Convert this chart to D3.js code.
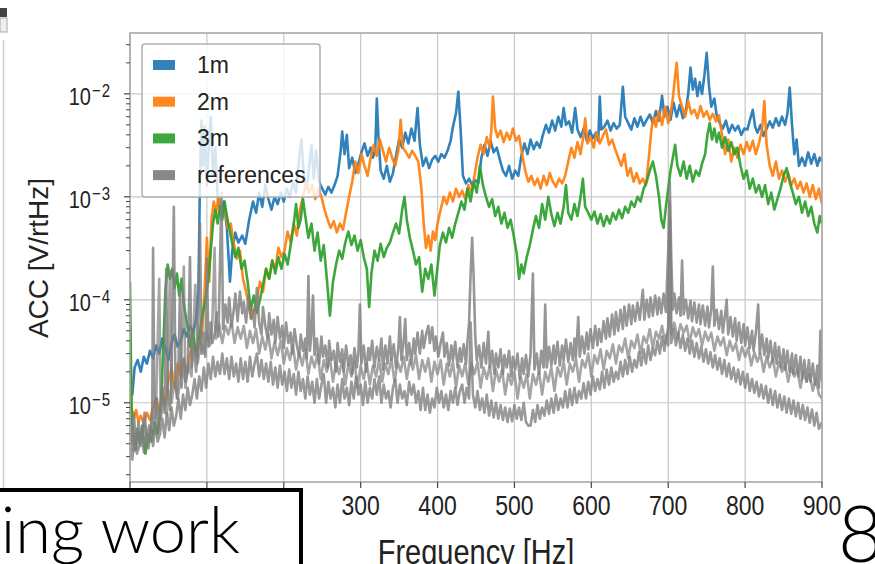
<!DOCTYPE html>
<html>
<head>
<meta charset="utf-8">
<script src="https://cdn.jsdelivr.net/npm/d3@7"></script>
<style>
  body { margin: 0; background: #fff; }
  svg { display: block; font-family: "Liberation Sans", Arial, sans-serif; }
</style>
</head>
<body>
<svg width="875" height="564"></svg>
<script>
var width = 875;
var height = 564;

// series: [frequency Hz, ACC V/rtHz]
var acc1m = [[0,1.4e-5],[3,1.2e-5],[6,2.2e-5],[10,2.6e-5],[14,2.0e-5],[18,2.8e-5],[22,2.4e-5],[26,3.2e-5],[30,2.7e-5],[34,3.6e-5],[38,3.0e-5],[42,4.2e-5],[46,3.4e-5],[50,2.6e-5],[54,3.8e-5],[58,4.6e-5],[62,3.5e-5],[66,4.0e-5],[70,5.2e-5],[74,4.4e-5],[78,5.6e-5],[82,4.8e-5],[86,6.5e-5],[89,1.2e-4],[91,1.5e-3],[93,5.5e-3],[95,2.0e-3],[97,4.8e-3],[100,1.3e-3],[102,2.6e-3],[105,6.0e-3],[108,1.6e-3],[111,3.0e-3],[114,1.0e-3],[118,7.0e-4],[122,9.0e-4],[126,5.0e-4],[130,1.5e-4],[133,3.0e-4],[137,4.5e-4],[141,3.6e-4],[146,4.2e-4],[150,3.5e-4],[155,6.0e-4],[160,9.0e-4],[164,7.0e-4],[168,1.1e-3],[172,8.0e-4],[176,1.3e-3],[180,9.5e-4],[184,7.5e-4],[188,1.0e-3],[192,8.5e-4],[196,1.1e-3],[200,9.0e-4],[204,1.2e-3],[208,1.0e-3],[212,1.4e-3],[216,1.1e-3],[220,2.4e-3],[223,3.6e-3],[226,1.6e-3],[230,1.2e-3],[233,2.0e-3],[236,3.2e-3],[239,1.5e-3],[242,2.8e-3],[246,1.4e-3],[250,1.2e-3],[254,1.05e-3],[258,1.25e-3],[262,1.1e-3],[266,1.3e-3],[270,1.6e-3],[274,2.8e-3],[276,4.3e-3],[279,2.6e-3],[282,4.0e-3],[285,1.9e-3],[289,2.4e-3],[293,1.7e-3],[297,2.1e-3],[301,2.7e-3],[305,3.3e-3],[309,2.5e-3],[313,3.0e-3],[316,2.4e-3],[319,2.9e-3],[321,9.0e-3],[323,4.0e-3],[326,1.8e-3],[330,1.5e-3],[334,2.0e-3],[338,1.4e-3],[342,1.7e-3],[346,2.5e-3],[350,3.6e-3],[354,3.0e-3],[358,4.2e-3],[362,3.3e-3],[366,4.6e-3],[370,3.5e-3],[374,7.3e-3],[377,3.2e-3],[381,2.0e-3],[385,2.4e-3],[389,1.9e-3],[393,2.3e-3],[397,2.5e-3],[401,2.2e-3],[405,2.6e-3],[409,2.4e-3],[413,2.8e-3],[417,3.5e-3],[420,4.8e-3],[424,6.5e-3],[427,1.05e-2],[430,4.5e-3],[433,1.6e-3],[437,1.35e-3],[441,1.5e-3],[445,1.3e-3],[449,1.45e-3],[453,1.35e-3],[457,2.4e-3],[461,3.2e-3],[465,2.5e-3],[469,3.5e-3],[473,2.7e-3],[477,3.0e-3],[481,2.3e-3],[485,1.8e-3],[489,1.6e-3],[493,2.0e-3],[497,1.5e-3],[501,1.8e-3],[505,1.6e-3],[509,2.5e-3],[513,3.3e-3],[517,2.6e-3],[521,3.6e-3],[525,2.9e-3],[529,3.4e-3],[533,3.0e-3],[537,4.0e-3],[541,5.0e-3],[545,4.2e-3],[549,5.5e-3],[553,4.4e-3],[557,6.0e-3],[561,4.8e-3],[564,7.3e-3],[567,5.0e-3],[571,5.4e-3],[575,4.2e-3],[579,7.3e-3],[582,4.5e-3],[586,3.8e-3],[590,4.6e-3],[594,3.5e-3],[598,4.4e-3],[602,3.7e-3],[606,4.2e-3],[609,3.5e-3],[611,9.4e-3],[613,4.5e-3],[617,4.8e-3],[621,5.5e-3],[625,4.4e-3],[629,5.2e-3],[633,4.6e-3],[637,5.0e-3],[641,1.17e-2],[644,6.0e-3],[648,5.2e-3],[652,4.5e-3],[656,5.8e-3],[660,4.8e-3],[664,6.0e-3],[668,4.9e-3],[672,5.6e-3],[676,6.3e-3],[680,5.2e-3],[684,6.8e-3],[688,5.5e-3],[692,9.6e-3],[695,6.0e-3],[699,7.5e-3],[703,5.6e-3],[707,8.2e-3],[711,6.0e-3],[715,7.8e-3],[719,5.8e-3],[723,7.0e-3],[726,1.0e-2],[729,1.8e-2],[732,1.1e-2],[735,1.4e-2],[738,9.5e-3],[741,1.3e-2],[744,1.0e-2],[747,1.5e-2],[750,2.5e-2],[753,1.2e-2],[756,7.5e-3],[760,9.0e-3],[763,6.2e-3],[767,5.2e-3],[771,4.6e-3],[775,5.5e-3],[779,4.2e-3],[783,5.0e-3],[787,4.4e-3],[791,4.9e-3],[795,4.0e-3],[799,4.6e-3],[803,4.5e-3],[806,5.5e-3],[810,7.0e-3],[813,4.8e-3],[816,4.2e-3],[820,5.0e-3],[824,3.9e-3],[828,4.6e-3],[832,5.4e-3],[836,4.7e-3],[840,5.8e-3],[844,4.9e-3],[848,6.0e-3],[852,5.0e-3],[855,6.4e-3],[858,1.15e-2],[861,5.0e-3],[864,2.6e-3],[867,3.6e-3],[870,2.0e-3],[874,2.4e-3],[878,2.0e-3],[882,2.7e-3],[886,2.1e-3],[890,2.6e-3],[894,2.0e-3],[897,2.4e-3],[900,2.2e-3]];

var acc2m = [[0,5.5e-5],[2,9e-6],[5,7e-6],[8,8.5e-6],[11,6.5e-6],[14,7.5e-6],[18,6.2e-6],[22,8e-6],[26,6.8e-6],[30,9e-6],[34,1.1e-5],[38,8e-6],[42,1.3e-5],[46,9.5e-6],[50,1.6e-5],[54,2.2e-5],[58,1.4e-5],[62,2.4e-5],[66,1.8e-5],[70,2.6e-5],[74,2.0e-5],[78,3.0e-5],[82,3.8e-5],[86,3.2e-5],[90,3.6e-5],[94,5e-5],[97,1.2e-4],[100,4.0e-4],[103,1.5e-4],[106,6.0e-4],[109,9.0e-4],[112,7.0e-4],[115,1.0e-3],[118,8.0e-4],[121,6.5e-4],[124,7.5e-4],[127,5.0e-4],[131,5.5e-4],[135,3.5e-4],[139,2.5e-4],[143,3.0e-4],[147,1.6e-4],[151,1.2e-4],[155,8.5e-5],[158,6.5e-5],[161,8e-5],[165,1.0e-4],[169,1.5e-4],[173,1.2e-4],[177,2.0e-4],[181,1.6e-4],[185,2.4e-4],[189,2.0e-4],[193,3.2e-4],[197,2.6e-4],[201,3.0e-4],[205,4.6e-4],[209,3.6e-4],[213,5.5e-4],[217,4.2e-4],[221,7.5e-4],[225,1.0e-3],[229,1.4e-3],[233,1.1e-3],[237,1.3e-3],[241,9.5e-4],[245,1.2e-3],[249,1.0e-3],[253,7.5e-4],[257,6.0e-4],[261,5.0e-4],[265,5.8e-4],[269,4.5e-4],[273,5.5e-4],[277,4.8e-4],[281,7.0e-4],[285,1.0e-3],[289,1.4e-3],[293,2.2e-3],[297,1.7e-3],[301,2.6e-3],[305,2.0e-3],[309,1.6e-3],[313,2.4e-3],[317,3.2e-3],[321,2.5e-3],[325,3.6e-3],[329,2.8e-3],[333,2.2e-3],[337,3.0e-3],[341,2.4e-3],[345,2.0e-3],[349,2.8e-3],[352,5.6e-3],[355,3.0e-3],[359,2.7e-3],[363,2.4e-3],[367,2.8e-3],[371,2.5e-3],[375,2.2e-3],[379,1.2e-3],[382,5.5e-4],[385,3.2e-4],[388,4.2e-4],[391,3.0e-4],[394,4.6e-4],[397,3.8e-4],[400,5.5e-4],[404,7.5e-4],[408,1.0e-3],[412,8.5e-4],[416,1.1e-3],[420,9.0e-4],[424,1.2e-3],[428,1.0e-3],[432,1.15e-3],[436,9.5e-4],[440,1.3e-3],[444,1.1e-3],[448,1.6e-3],[452,2.4e-3],[456,3.2e-3],[460,2.6e-3],[464,3.8e-3],[468,3.0e-3],[470,4.5e-3],[472,9.4e-3],[475,4.6e-3],[478,3.8e-3],[482,4.4e-3],[486,3.4e-3],[490,4.2e-3],[494,3.6e-3],[498,4.6e-3],[502,3.5e-3],[506,3.9e-3],[510,2.6e-3],[514,1.8e-3],[518,1.4e-3],[522,1.6e-3],[526,1.3e-3],[530,1.5e-3],[534,1.2e-3],[538,1.6e-3],[542,1.3e-3],[546,1.7e-3],[550,1.4e-3],[554,1.25e-3],[558,1.5e-3],[562,1.35e-3],[566,1.6e-3],[570,2.2e-3],[574,3.0e-3],[578,2.4e-3],[582,3.4e-3],[586,2.6e-3],[589,3.6e-3],[592,5.8e-3],[595,3.3e-3],[599,3.8e-3],[603,3.0e-3],[607,4.2e-3],[611,3.3e-3],[615,3.9e-3],[619,4.5e-3],[623,3.2e-3],[627,3.6e-3],[631,2.9e-3],[635,2.4e-3],[639,2.0e-3],[643,2.6e-3],[647,1.6e-3],[651,1.9e-3],[655,1.4e-3],[659,1.7e-3],[663,1.35e-3],[667,1.5e-3],[671,1.3e-3],[675,2.5e-3],[678,4.4e-3],[681,6.0e-3],[684,4.8e-3],[688,6.8e-3],[692,5.0e-3],[696,7.5e-3],[700,5.2e-3],[703,6.5e-3],[706,9.0e-3],[709,1.5e-2],[711,2.0e-2],[714,9.5e-3],[718,7.5e-3],[722,6.0e-3],[726,8.5e-3],[730,6.4e-3],[734,7.0e-3],[738,5.8e-3],[742,7.6e-3],[746,6.0e-3],[750,6.8e-3],[754,5.6e-3],[758,6.4e-3],[762,5.4e-3],[766,6.2e-3],[770,4.0e-3],[774,2.6e-3],[778,3.6e-3],[782,2.2e-3],[786,3.0e-3],[790,2.4e-3],[794,3.2e-3],[798,2.6e-3],[802,3.4e-3],[806,2.8e-3],[810,3.5e-3],[814,2.6e-3],[818,3.3e-3],[822,4.5e-3],[825,8.5e-3],[828,3.2e-3],[832,2.0e-3],[836,1.6e-3],[840,2.2e-3],[844,1.5e-3],[848,1.8e-3],[852,1.4e-3],[856,1.7e-3],[860,1.3e-3],[864,1.5e-3],[868,1.2e-3],[872,1.4e-3],[876,1.1e-3],[880,1.35e-3],[884,1.0e-3],[888,1.3e-3],[892,9.5e-4],[896,1.2e-3],[900,8.5e-4]];

var acc3m = [[0,1.5e-4],[2,8e-6],[4,5e-6],[7,3.5e-6],[10,5.5e-6],[13,4e-6],[16,6e-6],[20,3.2e-6],[24,5e-6],[28,4.2e-6],[32,6.5e-6],[36,5e-6],[40,9e-6],[43,3e-5],[46,1.2e-4],[49,2.2e-4],[52,1.6e-4],[55,2.0e-4],[58,1.3e-4],[61,1.8e-4],[64,1.1e-4],[67,1.6e-4],[70,9e-5],[74,6e-5],[78,3.5e-5],[82,5e-5],[86,2.8e-5],[90,4.5e-5],[94,7e-5],[98,1.0e-4],[102,1.6e-4],[105,3.0e-4],[108,5.5e-4],[111,7.5e-4],[114,5.5e-4],[117,8.0e-4],[120,6.0e-4],[123,9.0e-4],[126,6.5e-4],[129,5.0e-4],[133,3.5e-4],[137,2.6e-4],[141,3.2e-4],[145,2.0e-4],[149,2.4e-4],[153,1.5e-4],[157,8e-5],[161,1.1e-4],[165,7.5e-5],[169,1.0e-4],[173,1.4e-4],[177,2.0e-4],[181,1.6e-4],[185,2.4e-4],[189,1.8e-4],[193,2.6e-4],[197,2.0e-4],[201,2.8e-4],[205,2.2e-4],[209,3.4e-4],[213,5.5e-4],[216,8.5e-4],[219,5.0e-4],[222,6.0e-4],[225,9.5e-4],[228,6.5e-4],[232,4.0e-4],[236,5.5e-4],[240,3.0e-4],[244,4.5e-4],[248,2.4e-4],[252,3.4e-4],[256,1.6e-4],[260,7.0e-5],[264,1.5e-4],[268,2.2e-4],[272,3.0e-4],[276,2.5e-4],[280,3.6e-4],[284,4.6e-4],[288,3.4e-4],[292,4.2e-4],[296,3.0e-4],[300,3.8e-4],[304,2.6e-4],[308,2.0e-4],[311,8.5e-5],[314,1.8e-4],[318,3.0e-4],[322,2.4e-4],[326,3.5e-4],[330,2.6e-4],[334,3.2e-4],[338,3.6e-4],[342,4.5e-4],[346,5.5e-4],[350,4.4e-4],[354,7.5e-4],[357,1.0e-3],[360,6.0e-4],[364,4.0e-4],[368,3.0e-4],[372,2.2e-4],[376,2.6e-4],[380,1.2e-4],[384,2.0e-4],[388,1.6e-4],[392,2.2e-4],[396,1.1e-4],[399,1.8e-4],[403,3.4e-4],[407,4.5e-4],[411,3.6e-4],[415,5.0e-4],[419,4.0e-4],[423,5.5e-4],[427,7.0e-4],[431,9.0e-4],[435,7.5e-4],[439,1.2e-3],[443,9.0e-4],[447,1.4e-3],[451,1.1e-3],[455,2.0e-3],[459,1.3e-3],[463,1.0e-3],[467,8.0e-4],[471,9.5e-4],[475,6.5e-4],[479,8.0e-4],[483,5.5e-4],[487,7.0e-4],[491,5.0e-4],[495,6.0e-4],[499,4.2e-4],[503,2.8e-4],[506,1.6e-4],[509,2.2e-4],[512,1.8e-4],[516,2.6e-4],[520,3.4e-4],[524,4.8e-4],[528,6.5e-4],[532,5.0e-4],[536,8.5e-4],[540,6.0e-4],[544,1.0e-3],[548,6.8e-4],[552,5.2e-4],[556,7.0e-4],[560,5.5e-4],[564,8.0e-4],[567,1.3e-3],[570,7.0e-4],[574,6.0e-4],[578,8.5e-4],[582,6.5e-4],[586,1.0e-3],[589,1.5e-3],[592,8.0e-4],[596,7.0e-4],[600,6.0e-4],[604,7.2e-4],[608,5.5e-4],[612,6.8e-4],[616,5.2e-4],[620,6.5e-4],[624,5.5e-4],[628,7.0e-4],[632,6.0e-4],[636,7.5e-4],[640,6.2e-4],[644,8.0e-4],[648,7.0e-4],[652,9.0e-4],[656,8.0e-4],[660,1.0e-3],[664,9.0e-4],[668,1.2e-3],[672,1.4e-3],[676,1.8e-3],[680,2.2e-3],[684,1.6e-3],[688,1.0e-3],[691,6.0e-4],[694,5.0e-4],[697,8.0e-4],[700,1.2e-3],[703,1.8e-3],[706,2.4e-3],[709,3.2e-3],[712,2.0e-3],[716,1.6e-3],[720,2.2e-3],[724,1.5e-3],[728,2.0e-3],[732,1.4e-3],[736,1.8e-3],[740,1.6e-3],[744,2.1e-3],[748,2.6e-3],[751,4.0e-3],[754,5.2e-3],[757,3.6e-3],[760,4.6e-3],[763,3.4e-3],[766,4.2e-3],[770,3.0e-3],[774,3.8e-3],[778,2.8e-3],[782,3.4e-3],[786,2.6e-3],[790,3.0e-3],[794,2.0e-3],[798,1.5e-3],[802,1.8e-3],[806,1.2e-3],[810,1.5e-3],[814,1.1e-3],[818,1.3e-3],[822,1.0e-3],[826,1.3e-3],[830,8.5e-4],[834,1.1e-3],[838,7.5e-4],[842,9.5e-4],[846,1.2e-3],[850,1.6e-3],[854,1.9e-3],[858,1.4e-3],[862,1.1e-3],[866,8.5e-4],[870,1.0e-3],[874,7.0e-4],[878,9.0e-4],[882,6.5e-4],[886,8.0e-4],[890,5.5e-4],[894,4.5e-4],[897,6.5e-4],[900,5.5e-4]];

var refA = [[0,7e-6],[3,4e-6],[5,8e-6],[8,3.5e-6],[11,6.5e-6],[14,4.5e-6],[16,5e-6],[19,8e-6],[22,4.2e-6],[25,6e-6],[27,4.8e-6],[29,9e-6],[30,3.2e-4],[32,7e-6],[35,1.1e-5],[37,5.5e-6],[40,9e-6],[43,1.4e-5],[45,8e-6],[47,2.0e-4],[49,1.4e-5],[52,8.5e-6],[54,1.7e-5],[57,8.0e-4],[59,1.8e-5],[61,1.1e-5],[63,2.2e-5],[65,1.2e-4],[67,1.4e-5],[70,2.7e-5],[72,1.6e-5],[75,2.0e-5],[78,2.6e-4],[80,2.2e-5],[83,3.6e-5],[86,2.0e-5],[88,3.0e-5],[91,5.5e-4],[93,3.0e-5],[95,4.8e-5],[98,2.8e-5],[100,2.5e-4],[102,3.5e-5],[105,6.0e-5],[107,3.8e-5],[110,4.6e-5],[113,7.5e-5],[115,4.4e-5],[119,1.1e-3],[121,5.2e-5],[124,9.0e-5],[127,6.0e-5],[129,1.05e-4],[132,5.5e-5],[135,8.0e-5],[137,1.15e-4],[140,6.2e-5],[143,1.2e-4],[146,7.4e-5],[148,9.5e-5],[151,6.0e-5],[154,1.1e-4],[157,6.6e-5],[160,8.0e-5],[162,5.4e-5],[165,1.3e-4],[168,6.0e-5],[171,4.6e-5],[173,8.5e-5],[176,5.6e-5],[179,4.2e-5],[181,7.4e-5],[184,4.6e-5],[187,6.4e-5],[189,3.8e-5],[192,6.8e-5],[195,4.2e-5],[198,5.6e-5],[200,3.4e-5],[203,6.0e-5],[206,3.8e-5],[209,4.8e-5],[211,3.0e-5],[214,5.2e-5],[217,3.6e-5],[220,2.8e-5],[222,4.6e-5],[225,3.2e-5],[228,4.2e-5],[230,2.7e-5],[232,1.7e-4],[234,3.2e-5],[236,4.8e-5],[238,1.1e-4],[240,2.9e-5],[243,4.2e-5],[246,2.4e-5],[249,4.4e-5],[251,2.8e-5],[254,3.6e-5],[257,2.2e-5],[259,4.0e-5],[262,2.6e-5],[265,3.2e-5],[268,2.0e-5],[270,3.8e-5],[273,2.5e-5],[276,3.3e-5],[278,2.0e-5],[281,3.6e-5],[284,2.3e-5],[287,2.9e-5],[289,1.9e-5],[292,3.4e-5],[295,2.2e-5],[297,3.0e-5],[299,9.0e-5],[301,2.4e-5],[304,3.6e-5],[307,2.0e-5],[310,3.4e-5],[312,2.6e-5],[315,4.0e-5],[318,2.2e-5],[321,3.5e-5],[324,2.6e-5],[327,4.2e-5],[329,2.1e-5],[332,3.6e-5],[335,2.4e-5],[338,4.4e-5],[340,2.6e-5],[343,3.7e-5],[346,2.2e-5],[349,3.4e-5],[351,6.8e-5],[353,2.6e-5],[356,4.0e-5],[358,6.5e-5],[360,2.6e-5],[363,3.8e-5],[366,2.4e-5],[369,4.2e-5],[371,3.0e-5],[374,4.8e-5],[377,3.0e-5],[380,5.0e-5],[382,3.4e-5],[385,4.6e-5],[388,5.6e-5],[390,3.8e-5],[393,5.4e-5],[396,3.2e-5],[398,4.4e-5],[401,2.8e-5],[404,3.8e-5],[407,4.8e-5],[409,2.8e-5],[412,3.8e-5],[415,2.3e-5],[418,3.6e-5],[420,2.6e-5],[423,3.9e-5],[426,2.2e-5],[429,3.4e-5],[431,2.5e-5],[434,3.7e-5],[437,2.4e-5],[439,4.0e-5],[441,6.0e-5],[443,1.8e-4],[445,4.0e-4],[447,1.6e-4],[449,4.5e-5],[451,2.6e-5],[454,3.6e-5],[457,2.2e-5],[460,3.8e-5],[463,2.4e-5],[466,4.9e-5],[468,2.2e-5],[471,3.2e-5],[474,1.9e-5],[476,3.0e-5],[479,2.2e-5],[482,3.3e-5],[485,1.9e-5],[487,2.9e-5],[490,2.2e-5],[493,3.2e-5],[496,1.8e-5],[498,2.8e-5],[501,2.1e-5],[504,3.0e-5],[507,1.7e-5],[510,2.7e-5],[512,1.9e-5],[515,2.9e-5],[518,1.8e-5],[521,3.0e-5],[524,1.8e-4],[526,2.1e-5],[529,3.0e-5],[532,1.9e-5],[535,3.2e-5],[538,2.2e-5],[540,9.0e-5],[542,2.2e-5],[545,3.5e-5],[548,2.3e-5],[551,3.6e-5],[553,2.4e-5],[556,3.9e-5],[559,2.3e-5],[562,3.6e-5],[564,2.6e-5],[567,4.1e-5],[570,2.5e-5],[573,3.8e-5],[576,2.6e-5],[578,4.2e-5],[580,2.8e-5],[583,6.8e-5],[585,2.8e-5],[588,4.4e-5],[591,3.0e-5],[594,4.8e-5],[596,3.3e-5],[599,5.2e-5],[602,3.4e-5],[605,5.6e-5],[608,3.6e-5],[610,5.2e-5],[613,3.9e-5],[616,6.2e-5],[619,4.2e-5],[621,6.6e-5],[624,4.4e-5],[627,7.2e-5],[630,4.6e-5],[632,7.6e-5],[635,5.0e-5],[638,8.0e-5],[641,5.2e-5],[643,8.6e-5],[646,5.6e-5],[649,9.0e-5],[652,5.8e-5],[654,8.8e-5],[657,6.2e-5],[660,9.4e-5],[663,6.4e-5],[665,9.0e-5],[667,1.25e-4],[669,6.4e-5],[672,1.0e-4],[675,6.8e-5],[677,1.05e-4],[680,7.0e-5],[683,1.1e-4],[686,7.2e-5],[688,1.05e-4],[691,7.4e-5],[694,1.15e-4],[697,7.6e-5],[700,3.0e-4],[702,1.4e-3],[704,2.5e-4],[706,8.0e-5],[708,1.15e-4],[711,7.4e-5],[714,1.05e-4],[716,7.0e-5],[718,2.4e-4],[720,7.2e-5],[723,1.0e-4],[726,6.6e-5],[729,9.8e-5],[731,6.2e-5],[734,9.4e-5],[737,6.0e-5],[740,9.0e-5],[742,5.8e-5],[745,8.8e-5],[748,5.6e-5],[751,8.6e-5],[753,5.4e-5],[756,8.2e-5],[758,2.1e-4],[760,5.6e-5],[763,8.0e-5],[766,5.2e-5],[769,7.8e-5],[771,4.8e-5],[774,7.2e-5],[776,1.0e-4],[778,4.6e-5],[781,6.8e-5],[784,4.4e-5],[787,6.6e-5],[789,4.0e-5],[792,6.0e-5],[795,3.8e-5],[798,5.8e-5],[800,3.6e-5],[803,5.4e-5],[806,3.4e-5],[809,5.0e-5],[811,3.2e-5],[814,4.8e-5],[817,9.0e-5],[819,3.0e-5],[822,4.6e-5],[825,2.9e-5],[828,4.2e-5],[830,2.7e-5],[833,4.0e-5],[836,2.5e-5],[839,3.8e-5],[841,2.4e-5],[844,3.5e-5],[847,2.2e-5],[850,3.3e-5],[852,2.1e-5],[855,3.2e-5],[858,2.0e-5],[861,3.0e-5],[863,1.9e-5],[866,2.9e-5],[869,1.8e-5],[872,2.8e-5],[874,1.7e-5],[877,2.6e-5],[880,1.6e-5],[883,2.6e-5],[885,1.6e-5],[888,2.4e-5],[891,1.5e-5],[894,2.3e-5],[896,1.4e-5],[898,5.0e-5],[900,1.6e-5]];

var refB = [[0,4e-6],[3,2.8e-6],[6,4.6e-6],[9,3.2e-6],[12,3.8e-6],[15,5.2e-6],[18,3.3e-6],[21,4.8e-6],[24,3.6e-6],[27,5.6e-6],[30,3.8e-6],[33,6.2e-6],[36,4.2e-6],[39,5.0e-6],[42,7.0e-6],[45,4.6e-6],[48,8.0e-6],[51,5.4e-6],[54,9.0e-6],[57,6.0e-6],[60,7.4e-6],[63,1.1e-5],[66,7.0e-6],[69,1.2e-5],[72,8.5e-6],[75,1.4e-5],[78,9.5e-6],[81,1.2e-5],[84,1.7e-5],[87,1.1e-5],[90,1.8e-5],[93,1.3e-5],[96,2.2e-5],[99,1.4e-5],[102,2.4e-5],[105,1.7e-5],[108,2.8e-5],[111,1.8e-5],[114,2.5e-5],[117,1.9e-5],[120,3.0e-5],[123,1.9e-5],[126,2.7e-5],[129,1.7e-5],[132,2.8e-5],[135,1.8e-5],[138,2.4e-5],[141,1.6e-5],[144,2.7e-5],[147,1.7e-5],[150,2.5e-5],[153,1.6e-5],[156,2.8e-5],[159,1.8e-5],[162,2.4e-5],[165,3.0e-5],[168,1.8e-5],[171,2.6e-5],[174,1.7e-5],[177,2.4e-5],[180,1.6e-5],[183,2.5e-5],[186,1.5e-5],[189,2.2e-5],[192,1.4e-5],[195,2.3e-5],[198,1.5e-5],[201,2.0e-5],[204,1.3e-5],[207,2.1e-5],[210,1.4e-5],[213,1.9e-5],[216,1.2e-5],[219,2.0e-5],[222,1.3e-5],[225,1.7e-5],[228,1.1e-5],[231,1.8e-5],[234,1.2e-5],[237,1.6e-5],[240,1.0e-5],[243,1.7e-5],[246,1.1e-5],[249,1.5e-5],[252,1.9e-5],[255,1.0e-5],[258,1.6e-5],[261,1.1e-5],[264,1.4e-5],[267,9.0e-6],[270,1.5e-5],[273,1.0e-5],[276,1.7e-5],[279,1.1e-5],[282,1.4e-5],[285,9.5e-6],[288,1.6e-5],[291,1.1e-5],[294,1.8e-5],[297,1.2e-5],[300,1.5e-5],[303,9.5e-6],[306,1.6e-5],[309,1.0e-5],[312,1.4e-5],[315,1.1e-5],[318,1.7e-5],[321,1.2e-5],[324,1.8e-5],[327,1.0e-5],[330,1.5e-5],[333,1.1e-5],[336,1.3e-5],[339,9.0e-6],[342,1.4e-5],[345,1.7e-5],[348,1.0e-5],[351,1.5e-5],[354,1.1e-5],[357,1.3e-5],[360,9.5e-6],[363,1.6e-5],[366,1.2e-5],[369,1.5e-5],[372,1.0e-5],[375,1.3e-5],[378,8.5e-6],[381,1.4e-5],[384,8.5e-6],[387,1.2e-5],[390,8.0e-6],[393,1.1e-5],[396,9.0e-6],[399,1.4e-5],[402,1.0e-5],[405,1.3e-5],[408,9.0e-6],[411,1.2e-5],[414,8.5e-6],[417,1.3e-5],[420,1.0e-5],[423,1.4e-5],[426,9.5e-6],[429,1.3e-5],[432,1.5e-5],[435,1.0e-5],[438,1.4e-5],[441,1.1e-5],[443,6.0e-5],[446,1.2e-5],[449,9.0e-6],[452,1.3e-5],[455,8.5e-6],[458,1.1e-5],[461,8.0e-6],[464,1.2e-5],[467,7.5e-6],[470,1.05e-5],[473,7.2e-6],[476,1.0e-5],[479,7.0e-6],[482,9.5e-6],[485,6.8e-6],[488,9.0e-6],[491,6.5e-6],[494,8.8e-6],[497,6.6e-6],[500,9.5e-6],[503,7.0e-6],[506,9.0e-6],[509,6.8e-6],[512,1.0e-5],[515,6.5e-6],[518,6.0e-6],[521,6.0e-6],[524,8.5e-6],[527,6.5e-6],[530,9.5e-6],[533,7.0e-6],[536,9.0e-6],[539,7.5e-6],[542,1.05e-5],[545,7.8e-6],[548,1.1e-5],[551,8.0e-6],[554,1.2e-5],[557,8.5e-6],[560,1.1e-5],[563,9.0e-6],[566,1.3e-5],[569,9.0e-6],[572,1.35e-5],[575,9.5e-6],[578,1.4e-5],[581,1.0e-5],[584,1.3e-5],[587,1.1e-5],[590,1.55e-5],[593,1.1e-5],[596,1.6e-5],[599,1.2e-5],[602,1.8e-5],[605,1.3e-5],[608,1.7e-5],[611,1.35e-5],[614,2.0e-5],[617,1.4e-5],[620,2.1e-5],[623,1.5e-5],[626,2.2e-5],[629,1.6e-5],[632,2.0e-5],[635,1.7e-5],[638,2.5e-5],[641,1.8e-5],[644,2.6e-5],[647,1.9e-5],[650,2.8e-5],[653,2.0e-5],[656,2.6e-5],[659,2.2e-5],[662,3.1e-5],[665,2.3e-5],[668,3.3e-5],[671,2.4e-5],[674,3.6e-5],[677,2.6e-5],[680,3.4e-5],[683,2.9e-5],[686,4.0e-5],[689,3.0e-5],[692,4.4e-5],[695,3.2e-5],[698,4.6e-5],[700,3.6e-5],[702,6.0e-4],[704,3.8e-5],[707,5.2e-5],[710,3.6e-5],[713,4.8e-5],[716,3.4e-5],[719,4.6e-5],[722,3.2e-5],[725,4.2e-5],[728,3.0e-5],[731,4.0e-5],[734,2.8e-5],[737,3.8e-5],[740,2.7e-5],[743,3.5e-5],[746,2.5e-5],[749,3.3e-5],[752,2.4e-5],[755,3.1e-5],[758,2.2e-5],[761,2.9e-5],[764,2.1e-5],[767,2.7e-5],[770,1.9e-5],[773,2.6e-5],[776,1.8e-5],[779,2.4e-5],[782,1.7e-5],[785,2.2e-5],[788,1.6e-5],[791,2.1e-5],[794,1.5e-5],[797,2.0e-5],[800,1.4e-5],[803,1.9e-5],[806,1.3e-5],[809,1.7e-5],[812,1.25e-5],[815,1.6e-5],[818,1.15e-5],[821,1.5e-5],[824,1.1e-5],[827,1.45e-5],[830,1.0e-5],[833,1.35e-5],[836,9.5e-6],[839,1.3e-5],[842,9.0e-6],[845,1.2e-5],[848,8.5e-6],[851,1.15e-5],[854,8.0e-6],[857,1.1e-5],[860,7.8e-6],[863,1.05e-5],[866,7.4e-6],[869,1.0e-5],[872,7.0e-6],[875,9.5e-6],[878,6.8e-6],[881,9.0e-6],[884,6.4e-6],[887,8.6e-6],[890,6.0e-6],[893,8.0e-6],[896,5.6e-6],[900,6.5e-6]];

var refC = [[0,5e-6],[5,3.4e-6],[9,5.6e-6],[14,3.8e-6],[19,6e-6],[24,4e-6],[29,7.5e-6],[33,5e-6],[38,1.6e-4],[40,7e-6],[44,1.1e-5],[48,7.5e-6],[52,1.9e-4],[54,1.0e-5],[58,1.6e-5],[62,1.1e-5],[66,1.8e-5],[70,2.1e-4],[72,1.4e-5],[76,2.4e-5],[80,1.8e-5],[85,1.4e-4],[88,2.4e-5],[92,3.8e-5],[96,3.0e-5],[100,4.8e-5],[104,3.6e-5],[107,5.8e-5],[110,3.2e-4],[112,4.2e-5],[116,5.8e-5],[120,3.8e-5],[124,5.6e-5],[128,4.6e-5],[132,6.2e-5],[136,3.8e-5],[140,5.4e-5],[144,4.2e-5],[148,5.6e-5],[152,3.4e-5],[156,5.0e-5],[160,3.8e-5],[164,5.2e-5],[168,3.0e-5],[172,4.4e-5],[176,3.3e-5],[180,4.6e-5],[184,2.7e-5],[188,3.9e-5],[192,2.9e-5],[196,4.0e-5],[200,2.4e-5],[204,3.4e-5],[208,2.6e-5],[212,3.6e-5],[216,2.1e-5],[220,3.1e-5],[224,2.3e-5],[228,3.3e-5],[232,1.9e-5],[236,2.8e-5],[240,2.2e-5],[244,3.0e-5],[248,1.7e-5],[252,2.6e-5],[256,2.0e-5],[260,2.7e-5],[264,1.6e-5],[268,2.5e-5],[272,1.9e-5],[276,2.6e-5],[280,1.5e-5],[284,2.4e-5],[288,1.8e-5],[292,2.5e-5],[296,1.4e-5],[300,2.3e-5],[304,1.7e-5],[308,2.4e-5],[312,1.5e-5],[316,2.3e-5],[320,1.8e-5],[324,2.6e-5],[328,1.6e-5],[332,2.4e-5],[336,1.9e-5],[340,2.7e-5],[344,1.6e-5],[348,2.5e-5],[352,2.0e-5],[356,2.8e-5],[360,1.7e-5],[364,2.6e-5],[368,2.1e-5],[372,2.9e-5],[376,1.7e-5],[380,2.6e-5],[384,2.0e-5],[388,2.7e-5],[392,1.6e-5],[396,2.5e-5],[400,1.9e-5],[404,2.6e-5],[408,1.5e-5],[412,2.4e-5],[416,1.8e-5],[420,2.5e-5],[424,1.4e-5],[428,2.3e-5],[432,1.8e-5],[436,2.4e-5],[440,1.5e-5],[444,2.4e-5],[448,1.9e-5],[452,2.5e-5],[456,1.4e-5],[460,2.2e-5],[464,1.7e-5],[468,2.3e-5],[472,1.3e-5],[476,2.1e-5],[480,1.6e-5],[484,2.1e-5],[488,1.2e-5],[492,1.9e-5],[496,1.5e-5],[500,2.0e-5],[504,1.1e-5],[508,1.8e-5],[512,1.4e-5],[516,1.9e-5],[520,1.1e-5],[524,1.9e-5],[528,1.5e-5],[532,2.0e-5],[536,1.2e-5],[540,2.0e-5],[544,1.6e-5],[548,2.2e-5],[552,1.3e-5],[556,2.2e-5],[560,1.8e-5],[564,2.5e-5],[568,1.5e-5],[572,2.4e-5],[576,2.0e-5],[580,2.7e-5],[584,1.6e-5],[588,2.6e-5],[592,2.2e-5],[596,3.0e-5],[600,1.8e-5],[604,2.9e-5],[608,2.4e-5],[612,3.3e-5],[616,2.1e-5],[620,3.2e-5],[624,2.7e-5],[628,3.7e-5],[632,2.4e-5],[636,3.6e-5],[640,3.1e-5],[644,4.2e-5],[648,2.7e-5],[652,4.0e-5],[656,3.4e-5],[660,4.6e-5],[664,3.0e-5],[668,4.4e-5],[672,3.8e-5],[676,5.2e-5],[680,3.4e-5],[684,4.9e-5],[688,4.2e-5],[692,5.6e-5],[696,3.8e-5],[700,5.4e-5],[702,9.0e-4],[704,4.6e-5],[708,6.0e-5],[712,4.2e-5],[716,5.8e-5],[720,4.8e-5],[724,5.6e-5],[728,3.9e-5],[732,5.4e-5],[736,4.4e-5],[740,5.2e-5],[744,3.6e-5],[748,4.9e-5],[752,4.0e-5],[756,4.8e-5],[760,3.2e-5],[764,4.4e-5],[768,3.6e-5],[772,4.3e-5],[776,2.9e-5],[780,4.0e-5],[784,3.2e-5],[788,3.8e-5],[792,2.6e-5],[796,3.5e-5],[800,2.8e-5],[804,3.4e-5],[808,2.3e-5],[812,3.1e-5],[816,2.5e-5],[820,3.0e-5],[824,2.0e-5],[828,2.8e-5],[832,2.2e-5],[836,2.7e-5],[840,1.8e-5],[844,2.5e-5],[848,2.0e-5],[852,2.4e-5],[856,1.6e-5],[860,2.2e-5],[864,1.8e-5],[868,2.1e-5],[872,1.4e-5],[876,2.0e-5],[880,1.6e-5],[884,1.9e-5],[888,1.3e-5],[892,1.7e-5],[896,1.2e-5],[900,1.1e-5]];

var xTicks = [0, 100, 200, 300, 400, 500, 600, 700, 800, 900];
var xTickLabels = [300, 400, 500, 600, 700, 800, 900]; // 0..200 sit under the slide's caption box
var yDecades = [1e-5, 1e-4, 1e-3, 1e-2];
var yDecadeLabels = ["\u22125", "\u22124", "\u22123", "\u22122"];
var legendNames = ["1m", "2m", "3m", "references"];
var legendColors = ["#1f77b4", "#ff7f0e", "#2ca02c", "#7f7f7f"];

var svg = d3.select("svg");

svg.append("rect").attr("width", width).attr("height", height).attr("fill", "#fff");

// bits of the slide window at the left edge
svg.append("rect").attr("x", 0).attr("y", 8).attr("width", 7).attr("height", 9).attr("fill", "#444");
svg.append("rect").attr("x", 0).attr("y", 18).attr("width", 7).attr("height", 14).attr("fill", "#eee").attr("stroke", "#aaa");
svg.append("line").attr("x1", 3.5).attr("x2", 3.5).attr("y1", 40).attr("y2", 488).attr("stroke", "#ccc").attr("stroke-width", 1.5);

var x = d3.scaleLinear().domain([0, 900]).range([130, 822]);
var y = d3.scaleLog().domain([1.7e-6, 3.9e-2]).range([482, 33]);

// grid
svg.append("g").selectAll("line").data(xTicks).enter().append("line")
  .attr("x1", function(d) { return x(d); })
  .attr("x2", function(d) { return x(d); })
  .attr("y1", 33).attr("y2", 482)
  .attr("stroke", "#c8c8c8").attr("stroke-width", 1.2);
svg.append("g").selectAll("line").data(yDecades).enter().append("line")
  .attr("x1", 130).attr("x2", 822)
  .attr("y1", function(d) { return y(d); })
  .attr("y2", function(d) { return y(d); })
  .attr("stroke", "#c8c8c8").attr("stroke-width", 1.2);

svg.append("clipPath").attr("id", "plotclip")
  .append("rect").attr("x", 130).attr("y", 33).attr("width", 692).attr("height", 449);

var line = d3.line()
  .x(function(d) { return x(d[0]); })
  .y(function(d) { return y(d[1]); });

var plot = svg.append("g").attr("clip-path", "url(#plotclip)");
var series = [
  { data: acc1m, color: legendColors[0], op: 0.92 },
  { data: acc2m, color: legendColors[1], op: 0.92 },
  { data: acc3m, color: legendColors[2], op: 0.92 },
  { data: refB, color: legendColors[3], op: 0.8 },
  { data: refC, color: legendColors[3], op: 0.7 },
  { data: refA, color: legendColors[3], op: 0.82 }
];
plot.selectAll("path").data(series).enter().append("path")
  .attr("d", function(d) { return line(d.data); })
  .attr("fill", "none")
  .attr("stroke", function(d) { return d.color; })
  .attr("stroke-opacity", function(d) { return d.op; })
  .attr("stroke-width", 2.6)
  .attr("stroke-linejoin", "round");

// frame
svg.append("rect").attr("x", 130).attr("y", 33).attr("width", 692).attr("height", 449)
  .attr("fill", "none").attr("stroke", "#a8a8a8").attr("stroke-width", 1.6);

// y ticks (major + minor)
var minor = [];
[-6, -5, -4, -3, -2].forEach(function(e) {
  for (var m = 2; m <= 9; m++) {
    var v = m * Math.pow(10, e);
    if (v > 1.7e-6 && v < 3.9e-2) minor.push(v);
  }
});
svg.append("g").selectAll("line").data(minor).enter().append("line")
  .attr("x1", 126).attr("x2", 130)
  .attr("y1", function(d) { return y(d); }).attr("y2", function(d) { return y(d); })
  .attr("stroke", "#444").attr("stroke-width", 1);
svg.append("g").selectAll("line").data(yDecades).enter().append("line")
  .attr("x1", 124).attr("x2", 130)
  .attr("y1", function(d) { return y(d); }).attr("y2", function(d) { return y(d); })
  .attr("stroke", "#444").attr("stroke-width", 1.2);

var ylab = svg.append("g").selectAll("g").data(yDecades).enter().append("g")
  .attr("transform", function(d) { return "translate(0," + y(d) + ")"; });
ylab.append("text")
  .attr("transform", "translate(91,11) scale(1,1.22)")
  .attr("text-anchor", "end").attr("font-size", 20).attr("fill", "#222")
  .text("10");
ylab.append("text")
  .attr("transform", "translate(92,3) scale(1,1.22)")
  .attr("font-size", 15).attr("fill", "#222").attr("letter-spacing", 1)
  .text(function(d, i) { return yDecadeLabels[i]; });

// x ticks
svg.append("g").selectAll("line").data(xTicks).enter().append("line")
  .attr("x1", function(d) { return x(d); }).attr("x2", function(d) { return x(d); })
  .attr("y1", 482).attr("y2", 488)
  .attr("stroke", "#444").attr("stroke-width", 1.2);
svg.append("g").selectAll("text").data(xTickLabels).enter().append("text")
  .attr("transform", function(d) { return "translate(" + x(d) + ",515) scale(1,1.2)"; })
  .attr("text-anchor", "middle").attr("font-size", 23).attr("fill", "#222")
  .text(function(d) { return d; });

svg.append("text")
  .attr("transform", "translate(476,564) scale(1,1.2)")
  .attr("text-anchor", "middle").attr("font-size", 29).attr("fill", "#222")
  .text("Frequency [Hz]");

svg.append("text")
  .attr("transform", "translate(48,258) rotate(-90)")
  .attr("text-anchor", "middle").attr("font-size", 28).attr("fill", "#222")
  .text("ACC [V/rtHz]");

// legend
var legend = svg.append("g");
legend.append("rect")
  .attr("x", 142).attr("y", 44).attr("width", 178).attr("height", 153).attr("rx", 3)
  .attr("fill", "#fff").attr("fill-opacity", 0.8)
  .attr("stroke", "#b0b0b0").attr("stroke-width", 1.5);
var item = legend.selectAll("g.item").data(legendNames).enter().append("g")
  .attr("transform", function(d, i) { return "translate(0," + (65 + i * 36.7) + ")"; });
item.append("rect")
  .attr("x", 153).attr("y", -5).attr("width", 22).attr("height", 10)
  .attr("fill", function(d, i) { return legendColors[i]; })
  .attr("fill-opacity", 0.92);
item.append("text")
  .attr("x", 197).attr("y", 8)
  .attr("font-size", 23).attr("fill", "#222")
  .text(function(d) { return d; });

// slide overlay: cut-off caption box and page number
svg.append("rect")
  .attr("x", -10).attr("y", 490).attr("width", 311).attr("height", 100)
  .attr("fill", "#fff").attr("stroke", "#000").attr("stroke-width", 4);
svg.append("text")
  .attr("x", 240).attr("y", 553)
  .attr("text-anchor", "end")
  .attr("font-family", "Lato, 'Noto Sans', sans-serif").attr("font-weight", 300)
  .attr("font-size", 65).attr("fill", "#000")
  .text("ing work");
svg.append("text")
  .attr("x", 838).attr("y", 562)
  .attr("font-family", "Lato, 'Noto Sans', sans-serif").attr("font-weight", 300)
  .attr("font-size", 78).attr("fill", "#000")
  .text("8");
</script>
</body>
</html>
